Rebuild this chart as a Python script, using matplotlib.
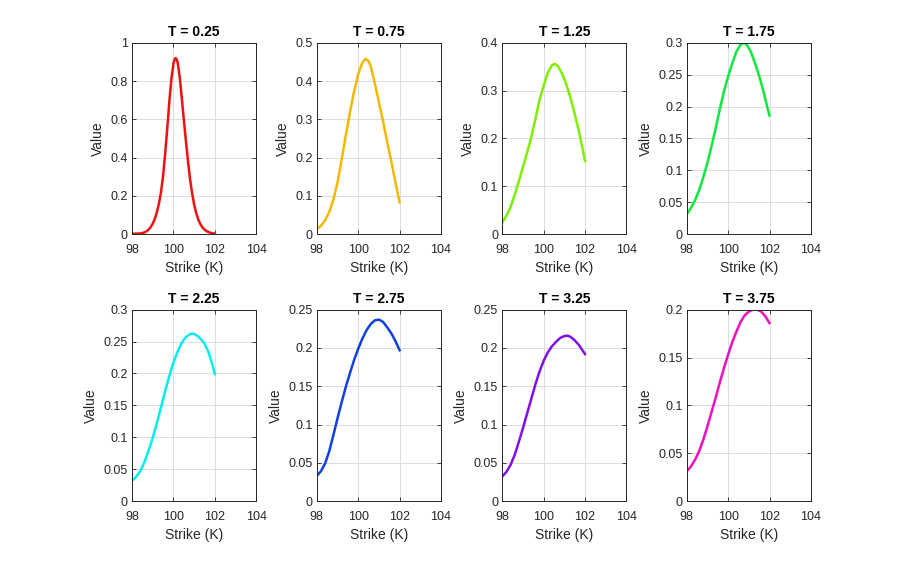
import matplotlib
matplotlib.use("Agg")
import matplotlib.pyplot as plt

plt.rcParams["font.family"] = ["Liberation Sans", "DejaVu Sans"]

# maturities shown in the 8 panels
maturities = [0.25, 0.75, 1.25, 1.75, 2.25, 2.75, 3.25, 3.75]

# strike / value pairs
k1 = [98.0, 98.4, 98.6, 98.7, 98.8, 98.9, 99.0, 99.1, 99.2, 99.3, 99.4, 99.5, 99.6, 99.7,
      99.8, 99.9, 100.0, 100.05, 100.1, 100.15, 100.2, 100.3, 100.4, 100.5, 100.6, 100.7,
      100.8, 100.9, 101.0, 101.1, 101.2, 101.3, 101.4, 101.5, 101.6, 101.8, 102.0]
v1 = [0.002, 0.004, 0.009, 0.015, 0.024, 0.037, 0.055, 0.08, 0.115, 0.16, 0.22, 0.305, 0.42, 0.55,
      0.69, 0.81, 0.89, 0.912, 0.92, 0.915, 0.898, 0.825, 0.715, 0.60, 0.49, 0.385,
      0.29, 0.215, 0.155, 0.11, 0.077, 0.053, 0.036, 0.024, 0.016, 0.007, 0.003]

k2 = [98.0, 98.2, 98.4, 98.6, 98.8, 99.0, 99.2, 99.4, 99.6, 99.8, 100.0, 100.2, 100.35,
      100.5, 100.6, 100.8, 101.0, 101.2, 101.4, 101.6, 101.8, 102.0]
v2 = [0.013, 0.022, 0.036, 0.058, 0.09, 0.135, 0.195, 0.258, 0.318, 0.372, 0.418, 0.448, 0.458,
      0.452, 0.44, 0.395, 0.345, 0.295, 0.24, 0.19, 0.135, 0.083]

k3 = [98.0, 98.2, 98.4, 98.6, 98.8, 99.0, 99.2, 99.4, 99.6, 99.8, 100.0, 100.2, 100.4,
      100.55, 100.7, 100.9, 101.1, 101.3, 101.5, 101.7, 101.9, 102.0]
v3 = [0.024, 0.038, 0.056, 0.082, 0.11, 0.14, 0.17, 0.202, 0.24, 0.28, 0.31, 0.337, 0.353,
      0.356, 0.351, 0.335, 0.313, 0.285, 0.252, 0.216, 0.175, 0.153]

k4 = [98.0, 98.2, 98.4, 98.6, 98.8, 99.0, 99.2, 99.4, 99.6, 99.8, 100.0, 100.2, 100.4,
      100.6, 100.75, 100.9, 101.1, 101.3, 101.5, 101.7, 101.9, 102.0]
v4 = [0.031, 0.041, 0.053, 0.069, 0.089, 0.112, 0.138, 0.166, 0.196, 0.224, 0.247, 0.268, 0.286,
      0.297, 0.300, 0.297, 0.286, 0.268, 0.248, 0.225, 0.198, 0.186]

k5 = [98.0, 98.2, 98.4, 98.6, 98.8, 99.0, 99.2, 99.4, 99.6, 99.8, 100.0, 100.2, 100.4,
      100.6, 100.8, 100.9, 101.0, 101.2, 101.35, 101.5, 101.7, 101.9, 102.0]
v5 = [0.032, 0.038, 0.047, 0.061, 0.079, 0.099, 0.122, 0.147, 0.172, 0.196, 0.217, 0.234, 0.248,
      0.257, 0.2615, 0.2625, 0.262, 0.258, 0.253, 0.247, 0.233, 0.212, 0.199]

k6 = [98.0, 98.2, 98.4, 98.6, 98.8, 99.0, 99.2, 99.4, 99.6, 99.8, 100.0, 100.2, 100.4,
      100.6, 100.8, 101.0, 101.2, 101.4, 101.6, 101.8, 102.0]
v6 = [0.033, 0.039, 0.049, 0.065, 0.086, 0.108, 0.129, 0.149, 0.167, 0.184, 0.199, 0.212, 0.223,
      0.231, 0.236, 0.237, 0.234, 0.227, 0.219, 0.209, 0.197]

k7 = [98.0, 98.2, 98.4, 98.6, 98.8, 99.0, 99.2, 99.4, 99.6, 99.8, 100.0, 100.2, 100.4,
      100.6, 100.8, 101.0, 101.15, 101.3, 101.5, 101.7, 101.9, 102.0]
v7 = [0.032, 0.038, 0.047, 0.06, 0.077, 0.095, 0.114, 0.133, 0.152, 0.169, 0.183, 0.194, 0.202,
      0.208, 0.213, 0.2155, 0.216, 0.2145, 0.21, 0.204, 0.196, 0.192]

k8 = [98.0, 98.2, 98.4, 98.6, 98.8, 99.0, 99.2, 99.4, 99.6, 99.8, 100.0, 100.2, 100.4,
      100.6, 100.8, 101.0, 101.2, 101.4, 101.6, 101.8, 102.0]
v8 = [0.031, 0.036, 0.043, 0.052, 0.064, 0.078, 0.093, 0.108, 0.124, 0.139, 0.153, 0.166, 0.177,
      0.187, 0.194, 0.198, 0.2, 0.2, 0.198, 0.193, 0.186]

strikes = [k1, k2, k3, k4, k5, k6, k7, k8]
values = [v1, v2, v3, v4, v5, v6, v7, v8]

colors = ["#ee1111", "#f5b800", "#80ee00", "#10e840", "#00eeee", "#1040e0", "#8010e8", "#ee10c0"]

# y limits and tick step per panel
ymax = [1.0, 0.5, 0.4, 0.3, 0.3, 0.25, 0.25, 0.2]
ystep = [0.2, 0.1, 0.1, 0.05, 0.05, 0.05, 0.05, 0.05]

fig = plt.figure(figsize=(9, 5.63), dpi=100)

lefts = [0.1467, 0.352, 0.558, 0.763]
bottoms = [0.584, 0.110]
w, h = 0.138, 0.340

for i in range(8):
    row, col = divmod(i, 4)
    ax = fig.add_axes([lefts[col], bottoms[row], w, h])
    ax.plot(strikes[i], values[i], color=colors[i], lw=1.8)

    ax.set_xlim(98, 104)
    ax.set_ylim(0, ymax[i])
    ax.set_xticks([98, 100, 102, 104])
    n = int(round(ymax[i] / ystep[i]))
    yt = [round(j * ystep[i], 3) for j in range(n + 1)]
    ax.set_yticks(yt)
    ax.set_yticklabels(["%g" % t for t in yt])

    ax.grid(True, color="#dcdcdc", lw=0.7)
    ax.set_axisbelow(True)
    ax.tick_params(direction="in", top=True, right=True, length=3, width=0.6,
                   labelsize=9, colors="#262626")
    ax.tick_params(axis="x", pad=7)
    ax.tick_params(axis="y", pad=3)
    for s in ax.spines.values():
        s.set_color("#262626")
        s.set_linewidth(0.7)

    ax.set_title("T = %.2f" % maturities[i], fontsize=10, fontweight="bold", pad=5)
    ax.set_xlabel("Strike (K)", fontsize=10, color="#262626", labelpad=4)
    ax.set_ylabel("Value", fontsize=10, color="#262626", labelpad=4)

plt.savefig("out.png", dpi=100)
